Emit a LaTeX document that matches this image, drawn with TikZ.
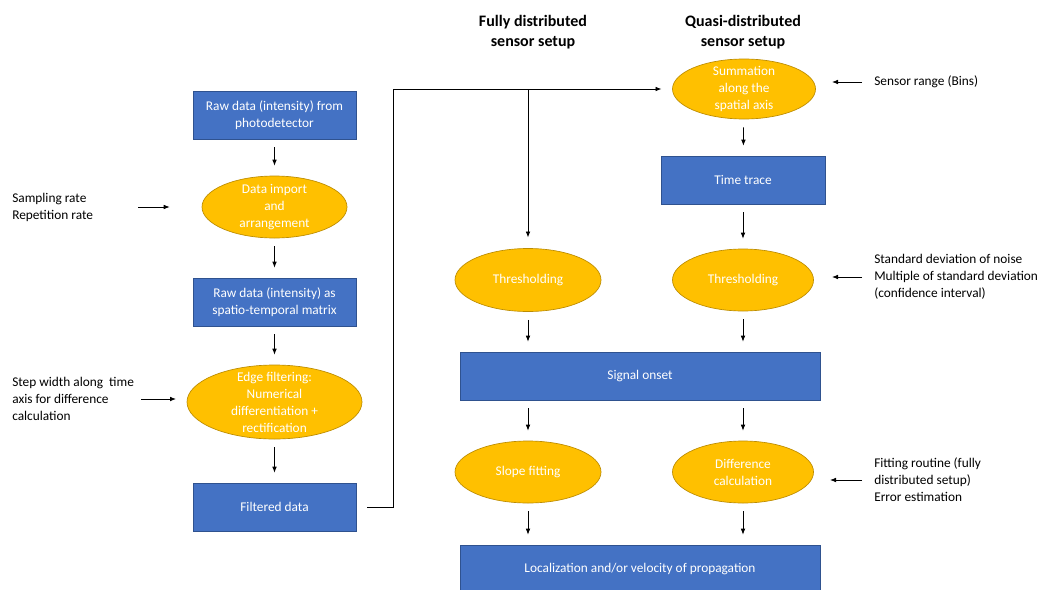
\documentclass[tikz,border=0pt]{standalone}
\usepackage{fontspec}
\setmainfont{Carlito}
\usetikzlibrary{shapes.geometric,arrows.meta}

\definecolor{boxblue}{HTML}{4472C4}
\definecolor{boxedge}{HTML}{2F528F}
\definecolor{ovalgold}{HTML}{FFC000}
\definecolor{ovaledge}{HTML}{BC8C00}

\begin{document}
\begin{tikzpicture}[%
			x=0.75pt, y=-0.75pt,
			align = center,
			font=\fontsize{10}{12.75}\selectfont,
			>={Latex[length=4.5pt,width=3.5pt]},
			flow/.style={->, line width=0.6pt, shorten <=6pt, shorten >=7.5pt},
			feed/.style={->, line width=0.6pt},
			stepbox/.style={%
				draw=boxedge,
				fill=boxblue,
				text=white,
				line width=0.5pt,
				minimum height=48*0.75pt,
				inner sep=0pt
			},
			stepoval/.style={%
				ellipse,
				draw=ovaledge,
				fill=ovalgold,
				text=white,
				line width=0.5pt,
				inner xsep=0pt,
				inner ysep=-6pt
			},
			note/.style={align=left, anchor=west, inner sep=0pt},
			head/.style={font=\fontsize{12}{15}\selectfont\bfseries}
			]
			\clip (0,0) rectangle (1041,589);
			\fill[white] (0,0) rectangle (1041,589);

			% left column
			\node[stepbox, minimum width=163*0.75pt] (raw) at (274.5,115) {Raw data (intensity) from\\photodetector};
			\node[stepoval, minimum width=145*0.75pt, minimum height=62*0.75pt] (imp) at (274.5,207) {Data import\\and\\arrangement};
			\node[stepbox, minimum width=163*0.75pt] (mat) at (274.5,302) {Raw data (intensity) as\\spatio-temporal matrix};
			\node[stepoval, minimum width=175*0.75pt, minimum height=74*0.75pt] (edge) at (274.5,402) {Edge filtering:\\Numerical\\differentiation +\\rectification};
			\node[stepbox, minimum width=163*0.75pt] (filt) at (274.5,507) {Filtered data};

			% headers
			\node[head] (hfull) at (533,32) {Fully distributed\\sensor setup};
			\node[head] (hquasi) at (743,32) {Quasi-distributed\\sensor setup};

			% right columns
			\node[stepoval, minimum width=143*0.75pt, minimum height=60*0.75pt] (sum) at (744,89) {Summation\\along the\\spatial axis};
			\node[stepbox, minimum width=164*0.75pt] (trace) at (743,180) {Time trace};
			\node[stepoval, minimum width=146*0.75pt, minimum height=63*0.75pt] (thrA) at (528,280) {Thresholding};
			\node[stepoval, minimum width=141*0.75pt, minimum height=62*0.75pt] (thrB) at (743,280) {Thresholding};
			\node[stepbox, minimum width=360*0.75pt] (onset) at (640,376) {Signal onset};
			\node[stepoval, minimum width=146*0.75pt, minimum height=62*0.75pt] (slope) at (528,472) {Slope fitting};
			\node[stepoval, minimum width=141*0.75pt, minimum height=62*0.75pt] (diff) at (743,472) {Difference\\calculation};
			\node[stepbox, minimum width=360*0.75pt] (loc) at (640,569) {Localization and/or velocity of propagation};

			% side notes
			\node[note] (rate) at (12,207) {Sampling rate\\Repetition rate};
			\node[note] (width) at (12,399) {Step width along~ time\\axis for difference\\calculation};
			\node[note] (bins) at (874,82) {Sensor range (Bins)};
			\node[note] (noise) at (874,277) {Standard deviation of noise\\Multiple of standard deviation\\(confidence interval)};
			\node[note] (fit) at (874,480) {Fitting routine (fully\\distributed setup)\\Error estimation};

			% main flow
			\draw[flow] (raw) -- (imp);
			\draw[flow] (imp) -- (mat);
			\draw[flow] (mat) -- (edge);
			\draw[flow] (edge) -- (filt);
			\draw[flow] (sum) -- (trace);
			\draw[flow] (trace) -- (thrB);
			\draw[flow] (thrA) -- (thrA |- onset.north);
			\draw[flow] (thrB) -- (thrB |- onset.north);
			\draw[flow] (slope |- onset.south) -- (slope);
			\draw[flow] (diff |- onset.south) -- (diff);
			\draw[flow] (slope) -- (slope |- loc.north);
			\draw[flow] (diff) -- (diff |- loc.north);

			% feed line to both setups
			\coordinate (bus) at (393,89);
			\coordinate (split) at (thrA.north |- bus);
			\draw[feed, shorten <=8pt, shorten >=8pt] (filt.east) -| (bus) -- (sum.west);
			\draw[feed, shorten >=8pt] (split) -- (thrA.north);

			% parameter arrows
			\coordinate (rateA) at (138,207);
			\coordinate (widthA) at (141,399);
			\coordinate (binsA) at (862,82);
			\coordinate (noiseA) at (862,277);
			\coordinate (fitA) at (862,480);
			\draw[feed, shorten >=24pt] (rateA) -- (imp.west |- rateA);
			\draw[feed, shorten >=8pt] (widthA) -- (edge.west |- widthA);
			\draw[feed] (binsA) -- (832,82);
			\draw[feed] (noiseA) -- (832,277);
			\draw[feed] (fitA) -- (830,480);
\end{tikzpicture}
\end{document}
